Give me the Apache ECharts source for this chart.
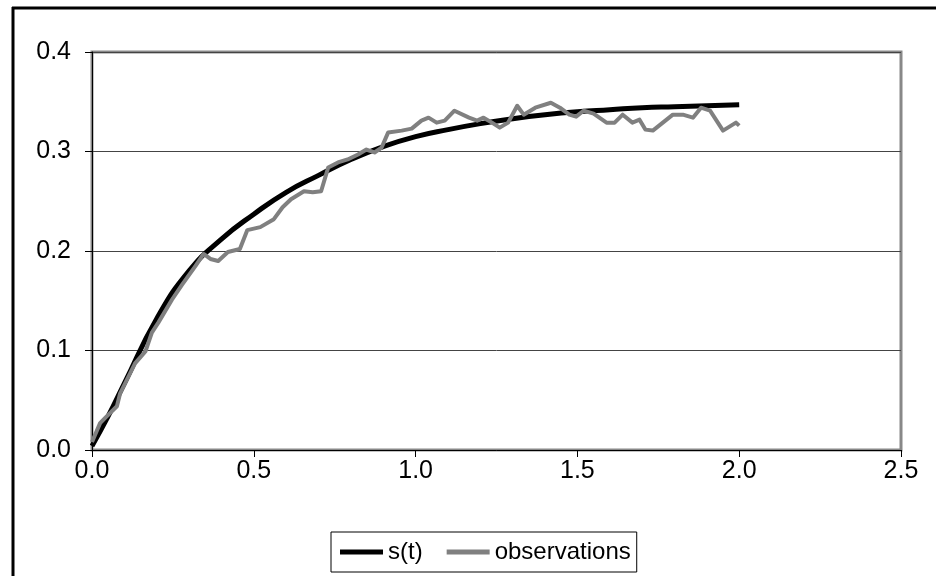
<!DOCTYPE html>
<html>
<head>
<meta charset="utf-8">
<script src="https://cdn.jsdelivr.net/npm/echarts@6/dist/echarts.min.js"></script>
<style>
  html, body { margin: 0; padding: 0; background: #fff; overflow: hidden; }
  #chart { width: 936px; height: 576px; }
</style>
</head>
<body>
<div id="chart"></div>
<script>
// fitted curve s(t)
var curveT = [0, 0.05, 0.1, 0.2, 0.3, 0.4, 0.5, 0.6, 0.7, 0.8, 0.9, 1.0, 1.1, 1.2, 1.3, 1.4, 1.5, 1.6, 1.7, 1.8, 1.9, 2.0];
var curveV = [0.004, 0.034, 0.067, 0.132, 0.180, 0.212, 0.237, 0.259, 0.276, 0.292, 0.305, 0.315, 0.322, 0.328, 0.333, 0.337, 0.340, 0.342, 0.344, 0.345, 0.346, 0.347];

// observations (noisy)
var obsT = [0, 0.025, 0.04, 0.077, 0.087, 0.133, 0.165, 0.185, 0.205, 0.247, 0.278, 0.32, 0.345, 0.366, 0.39, 0.42, 0.457, 0.48, 0.52, 0.562,
    0.589, 0.615, 0.655, 0.682, 0.708, 0.73, 0.76, 0.79, 0.822, 0.848, 0.873, 0.895, 0.915, 0.957, 0.988, 1.018, 1.04, 1.065, 1.09, 1.12,
    1.165, 1.19, 1.21, 1.236, 1.26, 1.286, 1.314, 1.334, 1.37, 1.418, 1.446, 1.475, 1.496, 1.519, 1.55, 1.59, 1.615, 1.64, 1.67, 1.692,
    1.71, 1.733, 1.764, 1.795, 1.826, 1.857, 1.882, 1.91, 1.95, 1.99, 2.0];
var obsV = [0.008, 0.027, 0.032, 0.044, 0.057, 0.087, 0.099, 0.118, 0.128, 0.151, 0.166, 0.185, 0.197, 0.192, 0.19, 0.199, 0.202, 0.221, 0.224, 0.232,
    0.244, 0.252, 0.26, 0.259, 0.26, 0.284, 0.289, 0.292, 0.297, 0.302, 0.299, 0.304, 0.319, 0.321, 0.323, 0.331, 0.334, 0.329, 0.331, 0.341,
    0.334, 0.331, 0.334, 0.329, 0.324, 0.329, 0.346, 0.337, 0.344, 0.349, 0.344, 0.337, 0.335, 0.341, 0.338, 0.329, 0.329, 0.337, 0.329, 0.332,
    0.322, 0.321, 0.329, 0.337, 0.337, 0.334, 0.344, 0.341, 0.321, 0.329, 0.326];

var seriesNames = ['s(t)', 'observations'];

var pairs = function(xs, ys) {
    var out = [];
    for (var i = 0; i < xs.length; i++) out.push([xs[i], ys[i]]);
    return out;
};

var chart = echarts.init(document.getElementById('chart'));
var font = 'Arial';

var option = {
    animation: false,
    textStyle: { fontFamily: font },
    graphic: [{
        // outer frame, left edge
        type: 'line',
        shape: { x1: 13, y1: 7, x2: 13, y2: 600 },
        style: { stroke: '#000', lineWidth: 3 },
        silent: true
    }, {
        // outer frame, top edge
        type: 'line',
        shape: { x1: 12, y1: 8, x2: 960, y2: 8 },
        style: { stroke: '#000', lineWidth: 3 },
        silent: true
    }],
    grid: {
        left: 92, right: 35, top: 52, bottom: 126,
        show: true,
        borderColor: '#888',
        borderWidth: 3,
        backgroundColor: '#fff'
    },
    legend: {
        data: seriesNames,
        left: 331, top: 532,
        itemWidth: 43, itemHeight: 5,
        itemGap: 24,
        icon: 'rect',
        borderColor: '#000', borderWidth: 1,
        padding: [8, 6, 8, 9],
        textStyle: { fontSize: 24, color: '#000', fontFamily: font }
    },
    xAxis: {
        type: 'value',
        min: 0, max: 2.5, interval: 0.5,
        axisLine: { show: true, onZero: false, lineStyle: { color: '#000', width: 1 } },
        axisTick: { show: true, inside: false, length: 7, lineStyle: { color: '#000' } },
        splitLine: { show: false },
        axisLabel: { fontSize: 25, color: '#000', fontFamily: font, margin: 9, formatter: function(v) { return v.toFixed(1); } }
    },
    yAxis: {
        type: 'value',
        min: 0, max: 0.4, interval: 0.1,
        axisLine: { show: true, lineStyle: { color: '#000', width: 1 } },
        axisTick: { show: true, inside: false, length: 7, lineStyle: { color: '#000' } },
        splitLine: { show: true, lineStyle: { color: '#444', width: 1 } },
        axisLabel: { fontSize: 25, color: '#000', fontFamily: font, margin: 21, formatter: function(v) { return v.toFixed(1); } }
    },
    series: [{
        name: seriesNames[0],
        type: 'line',
        data: pairs(curveT, curveV),
        smooth: true,
        symbol: 'none',
        z: 2,
        itemStyle: { color: '#000' },
        lineStyle: { color: '#000', width: 5 }
    }, {
        name: seriesNames[1],
        type: 'line',
        data: pairs(obsT, obsV),
        symbol: 'none',
        z: 3,
        itemStyle: { color: '#808080' },
        lineStyle: { color: '#808080', width: 4, join: 'round' }
    }]
};
chart.setOption(option);
</script>
</body>
</html>
